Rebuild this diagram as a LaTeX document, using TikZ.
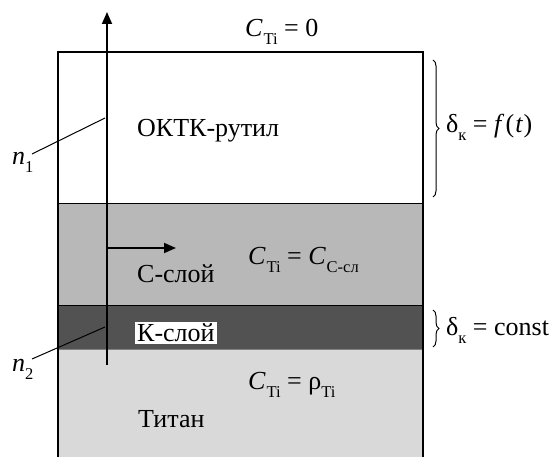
\documentclass[tikz,border=0pt]{standalone}
\usepackage{fontspec}
\setmainfont{Liberation Serif}
\usetikzlibrary{decorations.pathreplacing,arrows.meta}
\newcommand{\sbx}[1]{\raisebox{-0.3em}{\fontsize{16.5}{16.5}\selectfont\upshape #1}}
\newcommand{\Ci}{{\itshape C}\kern0.04em\sbx{Ti}}
\newcommand{\dk}{δ\sbx{к}}
\tikzset{
  lbl/.style={inner sep=0pt, font=\fontsize{26}{28}\selectfont},
  edge/.style={line width=2pt},
  thinl/.style={line width=1pt},
  brc/.style={decorate, decoration={brace, amplitude=6pt}, line width=1pt},
  arr/.style={line width=1.8pt,-{Triangle[length=12pt,width=10pt]}},
}
\definecolor{clay}{gray}{0.72}
\definecolor{klay}{gray}{0.32}
\definecolor{tlay}{gray}{0.85}
\begin{document}
\begin{tikzpicture}[x=1pt,y=-1pt]
\useasboundingbox (0,0) rectangle (550,457);
% layers
\fill[clay] (58,204) rectangle (423,306);
\fill[klay] (58,306) rectangle (423,350);
\fill[tlay] (58,350) rectangle (423,457);
\draw[thinl] (58,204) -- (423,204);
\draw[thinl] (58,306) -- (423,306);
\draw[thinl,gray] (58,350) -- (423,350);
\draw[edge] (58,457) -- (58,52) -- (423,52) -- (423,457);
% arrows
\coordinate (ab) at (107,365);
\coordinate (at) at (107,12);
\draw[arr] (ab) -- (at);
\coordinate (hs) at (107,248);
\coordinate (he) at (176,248);
\draw[arr] (hs) -- (he);
% n labels
\node[lbl,anchor=base west] (n1) at (12,165) {\itshape n\sbx{1}};
\coordinate (n1a) at (32,154);
\coordinate (n1b) at (105,118);
\draw[thinl] (n1a) -- (n1b);
\node[lbl,anchor=base west] (n2) at (12,372) {\itshape n\sbx{2}};
\coordinate (n2a) at (32,359);
\coordinate (n2b) at (105,327);
\draw[thinl] (n2a) -- (n2b);
% texts
\node[lbl,anchor=base west] (c0) at (245,37) {\Ci\ = 0};
\node[lbl,anchor=base west] (okt) at (137,137) {ОКТК-рутил};
\node[lbl,anchor=base west] (cs) at (137,283) {С-слой};
\node[lbl,anchor=base west] (ccs) at (248,265) {\Ci\ = {\itshape C}\kern0.04em\sbx{С-сл}};
\node[lbl,anchor=base west,fill=white,inner xsep=2pt,inner ysep=2.5pt,text height=17pt,text depth=0pt] (ks) at (135,342) {К-слой};
\node[lbl,anchor=base west] (crho) at (248,390) {\Ci\ = ρ\sbx{Ti}};
\node[lbl,anchor=base west] (ti) at (138,428) {Титан};
% braces
\coordinate (b1t) at (433,60);
\coordinate (b1b) at (433,197);
\draw[brc] (b1t) -- (b1b);
\node[lbl,anchor=west] (d1) at (446,127) {\dk\ = {\itshape f}\,(\kern0.04em{\itshape t}\kern0.04em)};
\coordinate (b2t) at (433,310);
\coordinate (b2b) at (433,347);
\draw[brc] (b2t) -- (b2b);
\node[lbl,anchor=base west] (d2) at (446,336) {\dk\ = const};
\end{tikzpicture}
\end{document}
